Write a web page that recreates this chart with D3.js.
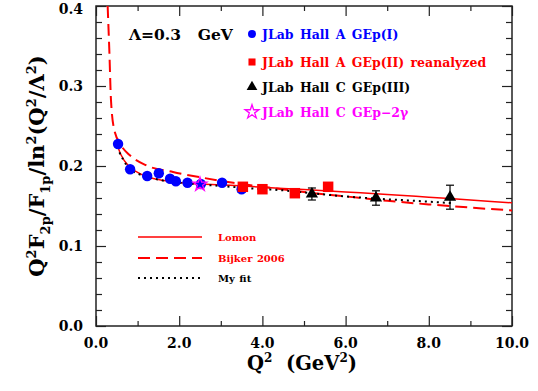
<!DOCTYPE html>
<html>
<head>
<meta charset="utf-8">
<script src="https://cdn.jsdelivr.net/npm/d3@7"></script>
<style>
  body { margin: 0; background: #fff; }
  svg { font-family: "DejaVu Serif", serif; }
</style>
</head>
<body>
<svg id="svg" width="538" height="391"></svg>
<script>
// data
const hallA1Q2 = [0.53, 0.82, 1.23, 1.51, 1.78, 1.92, 2.20, 2.52, 3.03, 3.50];
const hallA1R  = [0.2275, 0.196, 0.1875, 0.191, 0.184, 0.181, 0.179, 0.1775, 0.179, 0.171];
const hallA1E  = [0.003, 0.003, 0.003, 0.004, 0.003, 0.003, 0.003, 0.003, 0.003, 0.004];

const hallA2Q2 = [3.53, 4.00, 4.78, 5.58];
const hallA2R  = [0.174, 0.171, 0.166, 0.174];

const hallC3Q2 = [5.19, 6.73, 8.51];
const hallC3R  = [0.165, 0.160, 0.161];
const hallC3E  = [0.0075, 0.009, 0.015];

const gep2gQ2 = [2.50];
const gep2gR  = [0.177];

const lomonQ2 = [0.5, 0.6, 0.8, 1.0, 1.2, 1.5, 2.0, 2.5, 3.0, 3.5, 4.0, 5.0, 6.0, 7.0, 8.0, 9.0, 10.0];
const lomonR  = [0.228, 0.214, 0.199, 0.192, 0.187, 0.183, 0.1795, 0.1775, 0.1765, 0.175, 0.1735, 0.1705, 0.1675, 0.1645, 0.161, 0.1575, 0.154];

const bijkerQ2 = [0.28, 0.32, 0.36, 0.44, 0.6, 0.8, 1.2, 1.85, 2.6, 3.3, 4.0, 5.0, 6.0, 7.0, 8.0, 9.0, 10.0];
const bijkerR  = [0.40, 0.345, 0.2825, 0.245, 0.226, 0.214, 0.201, 0.1925, 0.185, 0.179, 0.174, 0.1675, 0.162, 0.1565, 0.152, 0.148, 0.1445];

const fitQ2 = [0.5, 0.8, 1.2, 1.5, 2.0, 2.5, 3.0, 3.5, 4.0, 4.4, 5.0, 6.0, 6.8, 7.5, 8.6];
const fitR  = [0.224, 0.197, 0.187, 0.183, 0.179, 0.177, 0.175, 0.173, 0.171, 0.170, 0.167, 0.162, 0.159, 0.157, 0.1535];

const xTickLabels = ['0.0', '2.0', '4.0', '6.0', '8.0', '10.0'];
const yTickLabels = ['0.0', '0.1', '0.2', '0.3', '0.4'];

const svg = d3.select('#svg');
const pLeft = 96, pRight = 512, pTop = 6, pBottom = 326;

const x = d3.scaleLinear().domain([0, 10]).range([pLeft, pRight]);
const y = d3.scaleLinear().domain([0, 0.4]).range([pBottom, pTop]);

// clip for curves
svg.append('clipPath').attr('id', 'clip')
  .append('rect').attr('x', pLeft).attr('y', pTop).attr('width', pRight - pLeft).attr('height', pBottom - pTop);

// axes with inward ticks on all four sides
function addAxis(axis, tx, ty) {
  const g = svg.append('g').attr('transform', `translate(${tx},${ty})`).call(axis);
  g.select('.domain').remove();
  g.selectAll('line').attr('stroke', '#222').attr('stroke-width', 1.2);
  g.selectAll('text').remove();
  return g;
}
const xMajor = d3.range(0, 10.01, 2), xMinor = d3.range(1, 10, 2);
const yMajor = d3.range(0, 0.401, 0.1), yMinor = d3.range(0.02, 0.4, 0.02).filter(v => Math.abs(v * 10 - Math.round(v * 10)) > 0.01);

addAxis(d3.axisTop(x).tickValues(xMajor).tickSize(10), 0, pBottom);
addAxis(d3.axisTop(x).tickValues(xMinor).tickSize(5), 0, pBottom);
addAxis(d3.axisBottom(x).tickValues(xMajor).tickSize(10), 0, pTop);
addAxis(d3.axisBottom(x).tickValues(xMinor).tickSize(5), 0, pTop);
addAxis(d3.axisRight(y).tickValues(yMajor).tickSize(10), pLeft, 0);
addAxis(d3.axisRight(y).tickValues(yMinor).tickSize(6), pLeft, 0);
addAxis(d3.axisLeft(y).tickValues(yMajor).tickSize(10), pRight, 0);
addAxis(d3.axisLeft(y).tickValues(yMinor).tickSize(6), pRight, 0);

svg.append('rect')
  .attr('x', pLeft).attr('y', pTop).attr('width', pRight - pLeft).attr('height', pBottom - pTop)
  .attr('fill', 'none').attr('stroke', '#222').attr('stroke-width', 1.5);

// tick labels
svg.selectAll('.xl').data(xTickLabels).enter().append('text')
  .attr('x', d => x(+d)).attr('y', 348)
  .attr('text-anchor', 'middle').attr('font-size', 14).attr('font-weight', 'bold')
  .text(d => d);
svg.selectAll('.yl').data(yTickLabels).enter().append('text')
  .attr('x', 83).attr('y', d => Math.max(y(+d) + 5, 14))
  .attr('text-anchor', 'end').attr('font-size', 14).attr('font-weight', 'bold')
  .text(d => d);

// axis titles
const xt = svg.append('text').attr('x', 302).attr('y', 370)
  .attr('text-anchor', 'middle').attr('font-size', 19.5).attr('font-weight', 'bold');
xt.append('tspan').text('Q');
xt.append('tspan').attr('dy', -8).attr('font-size', 12).text('2');
xt.append('tspan').attr('dy', 8).text('\u00a0 (GeV');
xt.append('tspan').attr('dy', -8).attr('font-size', 12).text('2');
xt.append('tspan').attr('dy', 8).text(')');

const yt = svg.append('text').attr('transform', 'translate(44,166) rotate(-90)')
  .attr('text-anchor', 'middle').attr('font-size', 21).attr('font-weight', 'bold');
const ySeg = [['Q', 0, 21], ['2', -8, 13], ['F', 8, 21], ['2p', 6, 13], ['/F', -6, 21], ['1p', 6, 13],
  ['/ln', -6, 21], ['2', -8, 13], ['(Q', 8, 21], ['2', -8, 13], ['/\u039b', 8, 21], ['2', -8, 13], [')', 8, 21]];
ySeg.forEach(s => yt.append('tspan').attr('dy', s[1]).attr('font-size', s[2]).text(s[0]));

svg.append('text').attr('x', 129).attr('y', 40).attr('font-size', 15.5).attr('font-weight', 'bold')
  .attr('word-spacing', 3).text('\u039b=0.3\u00a0 GeV');

// curves
const line = d3.line().x(d => x(d[0])).y(d => y(d[1])).curve(d3.curveMonotoneX);
const curves = g => g.attr('clip-path', 'url(#clip)').attr('fill', 'none');
svg.append('path').datum(d3.zip(lomonQ2, lomonR)).call(curves)
  .attr('d', line).attr('stroke', '#ff0000').attr('stroke-width', 1.5);
svg.append('path').datum(d3.zip(bijkerQ2, bijkerR)).call(curves)
  .attr('d', line).attr('stroke', '#ff0000').attr('stroke-width', 2).attr('stroke-dasharray', '12,6');
svg.append('path').datum(d3.zip(fitQ2, fitR)).call(curves)
  .attr('d', line).attr('stroke', '#000').attr('stroke-width', 2).attr('stroke-dasharray', '2,4');

// error bars
function errorBars(q2, r, e, color) {
  const g = svg.append('g').attr('stroke', color).attr('stroke-width', 1.2);
  q2.forEach((q, i) => {
    g.append('line').attr('x1', x(q)).attr('x2', x(q)).attr('y1', y(r[i] - e[i])).attr('y2', y(r[i] + e[i]));
    [-1, 1].forEach(s => g.append('line')
      .attr('x1', x(q) - 4).attr('x2', x(q) + 4)
      .attr('y1', y(r[i] + s * e[i])).attr('y2', y(r[i] + s * e[i])));
  });
}
errorBars(hallA1Q2, hallA1R, hallA1E, '#0000ff');
errorBars(hallC3Q2, hallC3R, hallC3E, '#000');

const sym = (type, size) => d3.symbol().type(type).size(size);
function points(q2, r, type, size, color) {
  svg.append('g').selectAll('path').data(d3.zip(q2, r)).enter().append('path')
    .attr('transform', d => `translate(${x(d[0])},${y(d[1])})`)
    .attr('d', sym(type, size)).attr('fill', color);
}
points(hallA1Q2, hallA1R, d3.symbolCircle, 85, '#0000ff');
points(hallA2Q2, hallA2R, d3.symbolSquare, 110, '#ff0000');
points(hallC3Q2, hallC3R, d3.symbolTriangle, 65, '#000');
svg.append('g').selectAll('path').data(d3.zip(gep2gQ2, gep2gR)).enter().append('path')
  .attr('transform', d => `translate(${x(d[0])},${y(d[1])})`)
  .attr('d', sym(d3.symbolStar, 60)).attr('fill', 'none').attr('stroke', '#ff00ff').attr('stroke-width', 1.3);

// legend for data sets
const legendText = ['JLab Hall A GEp(I)', 'JLab Hall A GEp(II) reanalyzed', 'JLab Hall C GEp(III)', 'JLab Hall C GEp\u22122\u03b3'];
const legendColor = ['#0000ff', '#ff0000', '#000', '#ff00ff'];
const legendSym = [d3.symbolCircle, d3.symbolSquare, d3.symbolTriangle, d3.symbolStar];
const legendY = [34, 62, 87, 112];
legendText.forEach((t, i) => {
  const p = svg.append('path').attr('transform', `translate(252,${legendY[i]})`)
    .attr('d', sym(legendSym[i], i === 3 ? 60 : 50));
  if (i === 3) p.attr('fill', 'none').attr('stroke', legendColor[i]).attr('stroke-width', 1.3);
  else p.attr('fill', legendColor[i]);
  svg.append('text').attr('x', 262).attr('y', legendY[i] + 5)
    .attr('font-size', 12.5).attr('font-weight', 'bold').attr('word-spacing', 2)
    .attr('fill', legendColor[i]).text(t);
});

// legend for curves
const curveNames = ['Lomon', 'Bijker 2006', 'My fit'];
const curveColor = ['#ff0000', '#ff0000', '#000'];
const curveDash = [null, '12,6', '2,4'];
const curveY = [237, 258, 278];
curveNames.forEach((t, i) => {
  svg.append('line').attr('x1', 138).attr('x2', 202).attr('y1', curveY[i]).attr('y2', curveY[i])
    .attr('stroke', curveColor[i]).attr('stroke-width', i === 0 ? 1.5 : 2)
    .attr('stroke-dasharray', curveDash[i]);
  svg.append('text').attr('x', 218).attr('y', curveY[i] + 4)
    .attr('font-size', 10).attr('font-weight', 'bold').attr('word-spacing', 1)
    .attr('fill', curveColor[i]).text(t);
});
</script>
</body>
</html>
